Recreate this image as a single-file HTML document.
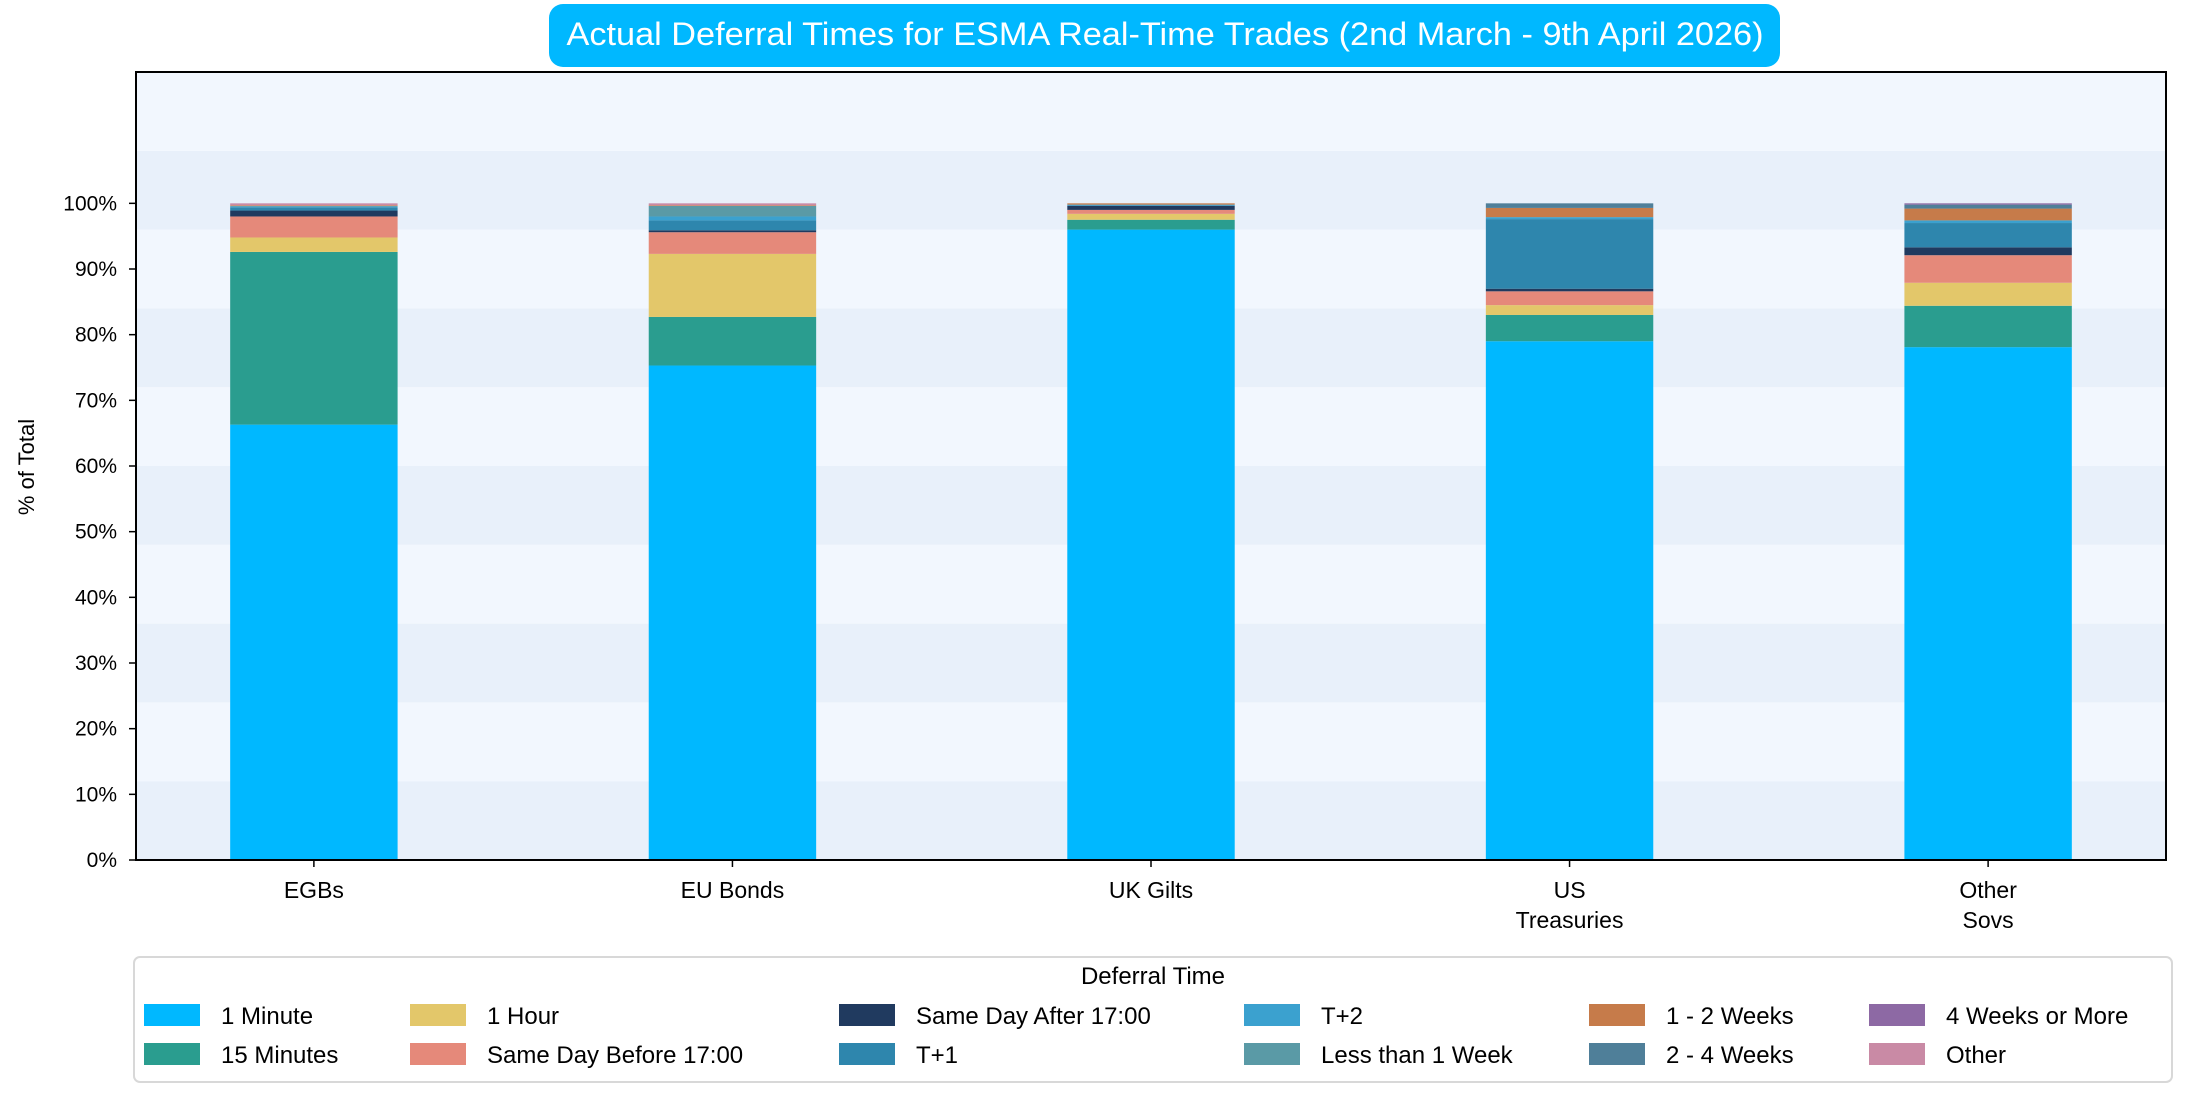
<!DOCTYPE html>
<html><head><meta charset="utf-8"><style>
html,body{margin:0;padding:0;background:#fff;}
svg{display:block;font-family:"Liberation Sans",sans-serif;}
</style></head><body>
<svg id="chart" width="2191" height="1099" viewBox="0 0 2191 1099">
<g id="bands"></g>
<g id="bars"></g>
<g id="axes"></g>
<g>
<rect x="549" y="4" width="1231" height="63" rx="14" fill="#00b8ff"/>
<text x="1165" y="45" font-size="32" fill="#fff" text-anchor="middle" textLength="1197" lengthAdjust="spacingAndGlyphs">Actual Deferral Times for ESMA Real-Time Trades (2nd March - 9th April 2026)</text>
</g>
<text transform="translate(34,467) rotate(-90)" font-size="22" text-anchor="middle" fill="#000">% of Total</text>
<g id="legend">
<rect x="134" y="957" width="2038" height="125" rx="6" fill="#fff" stroke="#d8d8d8" stroke-width="2"/>
<text x="1153" y="984" font-size="24" text-anchor="middle">Deferral Time</text>
</g>
</svg>
<script>
const categories = ["EGBs","EU Bonds","UK Gilts","US|Treasuries","Other|Sovs"];
const seriesNames = ["1 Minute","15 Minutes","1 Hour","Same Day Before 17:00","Same Day After 17:00","T+1","T+2","Less than 1 Week","1 - 2 Weeks","2 - 4 Weeks","4 Weeks or More","Other"];
const seriesColors = ["#00b8ff","#2a9d8f","#e3c76a","#e5897a","#203a5f","#2e86ad","#3ba1cf","#5a9aa6","#c67b4a","#4f7f99","#8d69a4","#c98aa5"];
const s1Minute = [66.3,75.3,96.0,79.0,78.1];
const s15Minutes = [26.3,7.4,1.5,4.0,6.3];
const s1Hour = [2.2,9.6,0.9,1.5,3.5];
const sSameDayBefore = [3.2,3.3,0.6,2.1,4.2];
const sSameDayAfter = [0.9,0.3,0.6,0.4,1.2];
const sT1 = [0.5,1.5,0.1,10.6,3.7];
const sT2 = [0.1,0.6,0.1,0.3,0.4];
const sLessWeek = [0.1,1.6,0.0,0.0,0.0];
const s1to2Weeks = [0.1,0.1,0.2,1.4,1.8];
const s2to4Weeks = [0.0,0.0,0.0,0.7,0.6];
const s4Weeks = [0.0,0.0,0.0,0.0,0.2];
const sOther = [0.3,0.3,0.0,0.0,0.0];
const yTicks = [0,10,20,30,40,50,60,70,80,90,100];
const series = [s1Minute,s15Minutes,s1Hour,sSameDayBefore,sSameDayAfter,sT1,sT2,sLessWeek,s1to2Weeks,s2to4Weeks,s4Weeks,sOther];

const NS="http://www.w3.org/2000/svg";
const L=136,R=2166,T=72,B=860,YMAX=120,XMIN=-0.425,XMAX=4.425,BW=0.4;
const y=v=>B-(v/YMAX)*(B-T);
const x=i=>L+(i-XMIN)/(XMAX-XMIN)*(R-L);
function mk(tag,attrs,parent){const e=document.createElementNS(NS,tag);for(const k in attrs)e.setAttribute(k,attrs[k]);parent.appendChild(e);return e;}
const bands=document.getElementById('bands');
for(let v=0;v<YMAX;v+=12){
  const r=mk('rect',{x:L,y:y(v+12),width:R-L,height:y(v)-y(v+12),fill:(v/12)%2===0?'#e8f0fa':'#f2f7fe'},bands);
  
  
}
const bars=document.getElementById('bars');
const bw=(BW/(XMAX-XMIN))*(R-L);
categories.forEach((c,i)=>{
  let acc=0;
  series.forEach((s,k)=>{
    const v=s[i]; if(v<=0){return;}
    const r=mk('rect',{x:x(i)-bw/2,y:y(acc+v),width:bw,height:y(acc)-y(acc+v),fill:seriesColors[k]},bars);
    
    
    acc+=v;
  });
});
const axes=document.getElementById('axes');
const frame=mk('rect',{x:L,y:T,width:R-L,height:B-T,fill:'none',stroke:'#000','stroke-width':2},axes);


yTicks.forEach(v=>{
  mk('line',{x1:L-7,x2:L,y1:y(v),y2:y(v),stroke:'#000','stroke-width':1.5},axes);
  const t=mk('text',{x:L-19,y:y(v)+7,'font-size':21,'text-anchor':'end'},axes);
  t.textContent=v+'%';
  
  
});
categories.forEach((c,i)=>{
  mk('line',{x1:x(i),x2:x(i),y1:B,y2:B+7,stroke:'#000','stroke-width':1.5},axes);
  c.split('|').forEach((ln,j)=>{
    const t=mk('text',{x:x(i),y:B+38+j*30,'font-size':23,'text-anchor':'middle'},axes);
    t.textContent=ln;
    
    
  });
});
const leg=document.getElementById('legend');
const colX=[144,410,839,1244,1589,1869];
seriesNames.forEach((n,k)=>{
  const col=Math.floor(k/2),row=k%2;
  const yy=1015+row*39;
  const p=mk('rect',{x:colX[col],y:yy-11,width:56,height:22,fill:seriesColors[k]},leg);
  
  
  const t=mk('text',{x:colX[col]+77,y:yy+9,'font-size':24},leg);
  t.textContent=n;
  
  
});
</script>
</body></html>
